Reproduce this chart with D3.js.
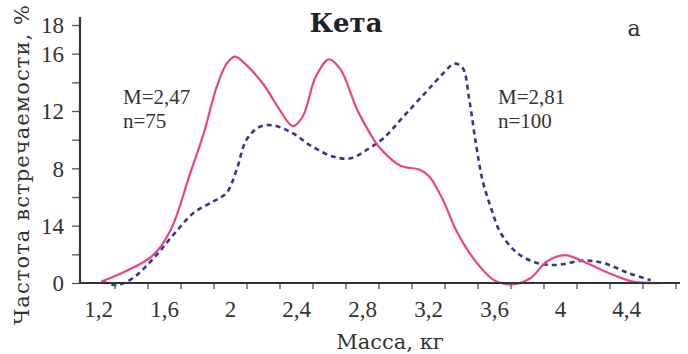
<!DOCTYPE html>
<html>
<head>
<meta charset="utf-8">
<script src="https://cdn.jsdelivr.net/npm/d3@7"></script>
<style>
  body { margin: 0; background: #fff; }
  svg { display: block; }
</style>
</head>
<body>
<div id="chart"></div>
<script>
// values
var xLabelValues = [1.2, 1.6, 2, 2.4, 2.8, 3.2, 3.6, 4, 4.4];
var xTickValues = [1.3, 1.5, 1.7, 1.9, 2.1, 2.3, 2.5, 2.7, 2.9, 3.1, 3.3, 3.5, 3.7, 3.9, 4.1, 4.3, 4.5, 4.7];
var yTickValues = [0, 2, 4, 6, 8, 10, 12, 14, 16, 18];
var yLabelValues = [0, 4, 8, 12, 16, 18];
var yLabelTexts = ['0', '14', '8', '12', '16', '18'];   // as printed

// solid line, M=2,47 n=75
var solidMass = [1.22, 1.52, 1.64, 1.76, 1.84, 1.92, 1.98, 2.03, 2.10, 2.20, 2.30, 2.38, 2.44, 2.52, 2.60, 2.67, 2.77, 2.85, 2.91, 3.03, 3.15, 3.21, 3.29, 3.37, 3.47, 3.60, 3.71, 3.82, 3.92, 4.03, 4.14, 4.30, 4.44, 4.61];
var solidFreq = [0.1, 1.8, 3.7, 7.7, 10.4, 13.7, 15.3, 15.8, 15.2, 13.9, 12.1, 10.95, 11.6, 14.4, 15.6, 14.9, 12.1, 10.4, 9.4, 8.2, 7.9, 7.4, 5.8, 3.7, 1.8, 0.2, -0.1, 0.33, 1.5, 1.95, 1.5, 0.67, 0.1, 0];

// dashed line, M=2,81 n=100
var dashMass = [1.23, 1.31, 1.41, 1.535, 1.656, 1.78, 1.90, 1.98, 2.04, 2.10, 2.18, 2.26, 2.38, 2.50, 2.63, 2.73, 2.83, 2.93, 3.05, 3.19, 3.29, 3.36, 3.41, 3.45, 3.49, 3.53, 3.58, 3.64, 3.74, 3.86, 3.98, 4.14, 4.26, 4.42, 4.55];
var dashFreq = [0.1, -0.15, 0.33, 1.7, 3.35, 4.9, 5.7, 6.3, 7.9, 10, 10.9, 11.0, 10.45, 9.5, 8.8, 8.7, 9.3, 10.1, 11.6, 13.35, 14.6, 15.3, 15.0, 12.8, 9.75, 7.2, 5.3, 3.5, 2.1, 1.4, 1.26, 1.56, 1.4, 0.67, 0.2];

var W = 688, H = 354;
var originX = 80, axisEndX = 680;
var numFont = '"Liberation Serif", serif';
var textFont = '"DejaVu Serif", serif';

var svg = d3.select('#chart').append('svg').attr('width', W).attr('height', H);

var x = d3.scaleLinear().domain([1.2, 4.4]).range([98, 626]);
var y = d3.scaleLinear().domain([0, 18]).range([283, 25]);

function comma(v) { return String(v).replace('.', ','); }

function numStyle(sel, size) {
  sel.attr('fill', '#333')
    .attr('font-family', null).attr('font-size', null)
    .style('font-family', numFont)
    .style('font-size', size + 'px');
}

// curves
var line = d3.line()
  .x(function (d) { return x(d[0]); })
  .y(function (d) { return y(d[1]); })
  .curve(d3.curveCatmullRom.alpha(0.5));

svg.append('path')
  .datum(d3.zip(dashMass, dashFreq))
  .attr('d', line)
  .attr('fill', 'none')
  .attr('stroke', '#3d3290')
  .attr('stroke-width', 2.6)
  .attr('stroke-dasharray', '5,4');

svg.append('path')
  .datum(d3.zip(solidMass, solidFreq))
  .attr('d', line)
  .attr('fill', 'none')
  .attr('stroke', '#ec4482')
  .attr('stroke-width', 2.2);

// x axis: small ticks between labels, labels without ticks
var xAxisG = svg.append('g').attr('transform', 'translate(0,' + y(0) + ')');
xAxisG.call(d3.axisBottom(x).tickValues(xTickValues).tickSize(6).tickFormat(''));
xAxisG.select('.domain').remove();
xAxisG.selectAll('line').attr('stroke', '#555').attr('stroke-width', 1.3);

var xLabG = svg.append('g').attr('transform', 'translate(0,' + y(0) + ')');
xLabG.call(d3.axisBottom(x).tickValues(xLabelValues).tickSize(0).tickPadding(18).tickFormat(comma));
xLabG.select('.domain').remove();
xLabG.selectAll('text').call(numStyle, 23);

// y axis
var yAxisG = svg.append('g').attr('transform', 'translate(' + originX + ',0)');
yAxisG.call(d3.axisLeft(y).tickValues(yTickValues).tickSize(8).tickPadding(8)
  .tickFormat(function (v) {
    var i = yLabelValues.indexOf(v);
    return i < 0 ? '' : yLabelTexts[i];
  }));
yAxisG.select('.domain').remove();
yAxisG.selectAll('line').attr('stroke', '#555').attr('stroke-width', 1.3);
yAxisG.selectAll('text').call(numStyle, 23).attr('dy', '0.34em');

// axis lines
svg.append('line')
  .attr('x1', originX).attr('x2', originX)
  .attr('y1', y(18) - 8).attr('y2', y(0) + 1)
  .attr('stroke', '#333').attr('stroke-width', 2.2);
svg.append('line')
  .attr('x1', originX - 1).attr('x2', axisEndX)
  .attr('y1', y(0)).attr('y2', y(0))
  .attr('stroke', '#333').attr('stroke-width', 2.2);

// titles
svg.append('text')
  .attr('x', 346).attr('y', 32)
  .attr('text-anchor', 'middle')
  .style('font-family', textFont)
  .style('font-weight', 'bold')
  .style('font-size', '26px')
  .attr('fill', '#222')
  .text('Кета');

svg.append('text')
  .attr('x', 634).attr('y', 36)
  .attr('text-anchor', 'middle')
  .style('font-family', textFont)
  .style('font-size', '22px')
  .attr('fill', '#333')
  .text('а');

svg.append('text')
  .attr('x', 390).attr('y', 349)
  .attr('text-anchor', 'middle')
  .style('font-family', textFont)
  .style('font-size', '21px')
  .attr('fill', '#333')
  .text('Масса, кг');

svg.append('text')
  .attr('transform', 'translate(29,165) rotate(-90)')
  .attr('text-anchor', 'middle')
  .style('font-family', textFont)
  .style('font-size', '21px')
  .attr('fill', '#333')
  .attr('textLength', 320)
  .attr('lengthAdjust', 'spacing')
  .text('Частота встречаемости, %');

// annotations
var notes = [
  { x: 123, lines: ['M=2,47', 'n=75'] },
  { x: 498, lines: ['M=2,81', 'n=100'] }
];
notes.forEach(function (n) {
  var t = svg.append('text')
    .attr('fill', '#333')
    .style('font-family', numFont)
    .style('font-size', '21px');
  n.lines.forEach(function (s, i) {
    t.append('tspan').attr('x', n.x).attr('y', 104 + i * 24).text(s);
  });
});
</script>
</body>
</html>
